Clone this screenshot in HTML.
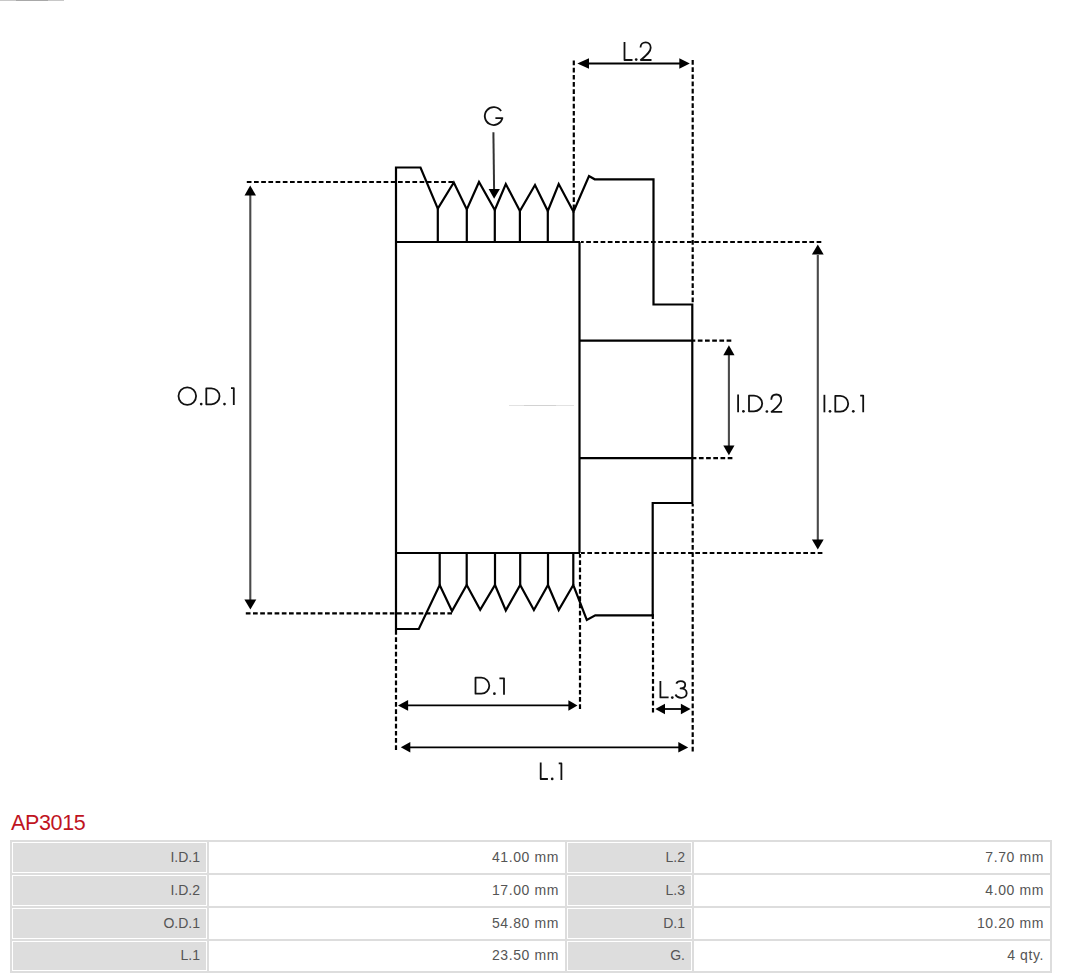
<!DOCTYPE html>
<html>
<head>
<meta charset="utf-8">
<style>
html,body{margin:0;padding:0;background:#fff;}
body{width:1066px;height:979px;position:relative;overflow:hidden;font-family:"Liberation Sans",sans-serif;}
svg.dg{position:absolute;left:0;top:0;}
.title{position:absolute;left:11px;top:811px;font-size:21.5px;line-height:24px;color:#c0141e;letter-spacing:-0.35px;white-space:nowrap;}
.ln{position:absolute;background:#dddddd;}
.cg{position:absolute;background:#dddddd;}
.tx{position:absolute;font-size:14px;line-height:16px;color:#555;white-space:nowrap;text-align:right;}
.v{letter-spacing:0.6px;}
</style>
</head>
<body>
<svg class="dg" width="1066" height="979" viewBox="0 0 1066 979">
<g fill="none" stroke="#000" stroke-width="2.2" stroke-linejoin="miter" stroke-linecap="butt">
  <!-- pulley outline -->
  <path d="M396,167.5 H420.5 L437.8,208.6 L453.8,182.5 L466.8,209.5 L479,182 L494.8,210 L505.8,184 L519.9,211 L535,185 L547.8,211 L558.7,184 L573.5,211.7 L589,176 L594.7,179.3 H653.5 V304.5 H692.3 V503 H652.7 V615.4 H595.3 L586.8,620 L573.3,585 L558.7,610 L548,585 L533.9,610 L520.2,585 L505.8,610.4 L495,585 L480.2,609.8 L466.7,585 L452,611 L439.7,585 L418.8,629 H396 Z"/>
  <path d="M437.8,208.6 V242 M466.8,209.5 V242 M494.8,210 V242 M519.9,211 V242 M547.8,211 V242 M573.5,211.7 V242"/>
  <path d="M439.7,553 V585 M466.7,553 V585 M495,553 V585 M520.2,553 V585 M548,553 V585 M573.3,553 V585"/>
  <path d="M396,242 H580 M396,553 H580 M579.5,242 V553 M580,340.6 H692.3 M580,458.2 H692.3 M652.8,614 V619"/>
</g>
<g fill="none" stroke="#000" stroke-width="2.2" stroke-dasharray="4.7 2.5">
  <path d="M246.8,182 H453"/>
  <path d="M245.8,613.3 H452"/>
  <path d="M573.8,60.5 V209.5"/>
  <path d="M692.7,60 V304"/>
  <path d="M821.3,242 H581"/>
  <path d="M822.4,553 H581"/>
  <path d="M731.3,340.6 H693"/>
  <path d="M732.4,458.2 H693"/>
  <path d="M396,750 V630"/>
  <path d="M580,709 V554"/>
  <path d="M653,712.6 V619"/>
  <path d="M692.7,751.4 V504"/>
</g>
<!-- faint center line -->
<rect x="509" y="405" width="65" height="1" fill="#e2e2e2"/><rect x="524" y="405" width="32" height="1" fill="#d2d2d2"/>
<rect x="0" y="0" width="64" height="1" fill="#c8c8c8"/><rect x="16" y="0" width="32" height="1" fill="#a8a8a8"/>
<!-- arrows: gray vertical ones -->
<g stroke="#4a4a4a" stroke-width="2.1" fill="none">
  <path d="M250.3,195 V600"/>
  <path d="M817.8,255 V540"/>
  <path d="M728.9,355 V446"/>
</g>
<g stroke="#000" stroke-width="1.8" fill="none">
  <path d="M588,63.5 H680"/>
  <path d="M407,705.4 H569"/>
  <path d="M664,709 H681"/>
  <path d="M409,747.3 H679"/>
  <path d="M493.4,132.3 L494.1,190" stroke-width="2" stroke="#333"/>
</g>
<g fill="#000" stroke="none">
  <path d="M250.2,185.4 L244.5,195.6 H256 Z"/>
  <path d="M250.4,609.5 L244.4,599.4 H256.3 Z"/>
  <path d="M817.8,244.5 L811.9,254.6 H823.7 Z"/>
  <path d="M817.8,549.6 L811.9,539.6 H823.7 Z"/>
  <path d="M728.9,345.2 L723.3,355.3 H734.5 Z"/>
  <path d="M728.9,455.2 L723.3,445.6 H734.5 Z"/>
  <path d="M577.3,63.5 L589,58.2 V68.8 Z"/>
  <path d="M689.8,63.5 L679.3,58.2 V68.8 Z"/>
  <path d="M398,705.4 L408.1,700.1 V710.7 Z"/>
  <path d="M577.5,705.5 L568.4,700.2 V710.8 Z"/>
  <path d="M655.3,709 L665,703.7 V714.3 Z"/>
  <path d="M690.6,709 L680.9,703.7 V714.3 Z"/>
  <path d="M400.8,747.3 L410.3,742 V752.6 Z"/>
  <path d="M688.2,747.4 L678.3,742.1 V752.6 Z"/>
  <path d="M494.1,198.8 L488.6,189 H499.9 Z"/>
</g>
<!-- labels (geometric glyphs) -->
<g fill="none" stroke="#111" stroke-width="1.8" stroke-linecap="butt" stroke-linejoin="round">
  <!-- L.2 -->
  <path d="M624.5,42 V60 H632.5"/>
  <path d="M640.5,47.6 C640.5,44.2 642.9,42.4 645.7,42.4 C648.7,42.4 650.7,44.6 650.7,47.8 C650.7,52 646,55.6 640.8,60 H651.5"/>
  <!-- G -->
  <path d="M501.1,111.1 A8.9,8.9 0 1 0 502.4,118.1 H495.4"/>
  <!-- O.D.1 -->
  <circle cx="187.3" cy="396.1" r="8.8"/>
  <path d="M206.3,388.3 H211.3 A8.2,8 0 0 1 211.3,404.3 H206.3 Z"/>
  <path d="M231,388.2 H233.8 V405"/>
  <!-- I.D.2 -->
  <path d="M738.1,394.5 V412.2"/>
  <path d="M749,395.7 H754 A8.2,7.8 0 0 1 754,411.3 H749 Z"/>
  <path d="M771.3,399.8 C771.3,396.3 773.6,394.5 776.4,394.5 C779.3,394.5 781.2,396.6 781.2,399.9 C781.2,404.2 776.5,407.6 771.6,411.8 H782.2"/>
  <!-- I.D.1 -->
  <path d="M824.4,394.8 V412.3"/>
  <path d="M835.3,395.8 H840.3 A7.9,7.95 0 0 1 840.3,411.7 H835.3 Z"/>
  <path d="M860.2,395.6 H863.2 V412.3"/>
  <!-- D.1 -->
  <path d="M475.5,677.7 H481.3 A8,8 0 0 1 481.3,693.7 H475.5 Z"/>
  <path d="M499.4,678.3 H504 V694.8"/>
  <!-- L.3 -->
  <path d="M660.4,681 V697.4 H668.6"/>
  <path d="M676.3,683.6 C677,681.9 678.6,681.2 680.7,681.2 C683.3,681.2 685.2,682.7 685.2,684.8 C685.2,687 683.2,688.4 680.6,688.4 C684,688.4 686.7,690.3 686.7,693.2 C686.7,696 684.2,697.8 681.1,697.8 C678.5,697.8 676.5,696.6 675.5,694.5"/>
  <!-- L.1 -->
  <path d="M540.7,762.5 V779 H547.9"/>
  <path d="M558.7,763.4 H561.4 V779.9"/>
</g>
<g fill="#111">
  <circle cx="636.2" cy="59.6" r="1.35"/>
  <circle cx="201.2" cy="404.1" r="1.35"/>
  <circle cx="224.5" cy="404.1" r="1.35"/>
  <circle cx="743.4" cy="411.3" r="1.35"/>
  <circle cx="766.9" cy="411.5" r="1.35"/>
  <circle cx="830" cy="411.3" r="1.35"/>
  <circle cx="853.3" cy="411.3" r="1.35"/>
  <circle cx="494.4" cy="693.7" r="1.35"/>
  <circle cx="672.3" cy="697.6" r="1.35"/>
  <circle cx="552.2" cy="778.9" r="1.35"/>
</g>
</svg>

<div class="title">AP3015</div>

<!-- table -->
<div class="ln" style="left:10px;top:840px;width:1042px;height:2px"></div>
<div class="ln" style="left:10px;top:873px;width:1042px;height:2px"></div>
<div class="ln" style="left:10px;top:906px;width:1042px;height:2px"></div>
<div class="ln" style="left:10px;top:939px;width:1042px;height:2px"></div>
<div class="ln" style="left:10px;top:971px;width:1042px;height:2px"></div>
<div class="ln" style="left:10px;top:840px;width:2px;height:133px"></div>
<div class="ln" style="left:207px;top:840px;width:2px;height:133px"></div>
<div class="ln" style="left:565px;top:840px;width:2px;height:133px"></div>
<div class="ln" style="left:692px;top:840px;width:2px;height:133px"></div>
<div class="ln" style="left:1050px;top:840px;width:2px;height:133px"></div>

<div class="cg" style="left:13px;top:843px;width:193px;height:29px"></div>
<div class="cg" style="left:13px;top:876px;width:193px;height:29px"></div>
<div class="cg" style="left:13px;top:909px;width:193px;height:29px"></div>
<div class="cg" style="left:13px;top:942px;width:193px;height:28px"></div>
<div class="cg" style="left:568px;top:843px;width:123px;height:29px"></div>
<div class="cg" style="left:568px;top:876px;width:123px;height:29px"></div>
<div class="cg" style="left:568px;top:909px;width:123px;height:29px"></div>
<div class="cg" style="left:568px;top:942px;width:123px;height:28px"></div>

<div class="tx" style="right:866px;top:849px">I.D.1</div>
<div class="tx" style="right:866px;top:882px">I.D.2</div>
<div class="tx" style="right:866px;top:915px">O.D.1</div>
<div class="tx" style="right:866px;top:947px">L.1</div>

<div class="tx v" style="right:507px;top:849px">41.00 mm</div>
<div class="tx v" style="right:507px;top:882px">17.00 mm</div>
<div class="tx v" style="right:507px;top:915px">54.80 mm</div>
<div class="tx v" style="right:507px;top:947px">23.50 mm</div>

<div class="tx" style="right:381px;top:849px">L.2</div>
<div class="tx" style="right:381px;top:882px">L.3</div>
<div class="tx" style="right:381px;top:915px">D.1</div>
<div class="tx" style="right:381px;top:947px">G.</div>

<div class="tx v" style="right:22px;top:849px">7.70 mm</div>
<div class="tx v" style="right:22px;top:882px">4.00 mm</div>
<div class="tx v" style="right:22px;top:915px">10.20 mm</div>
<div class="tx v" style="right:22px;top:947px">4 qty.</div>
</body>
</html>
